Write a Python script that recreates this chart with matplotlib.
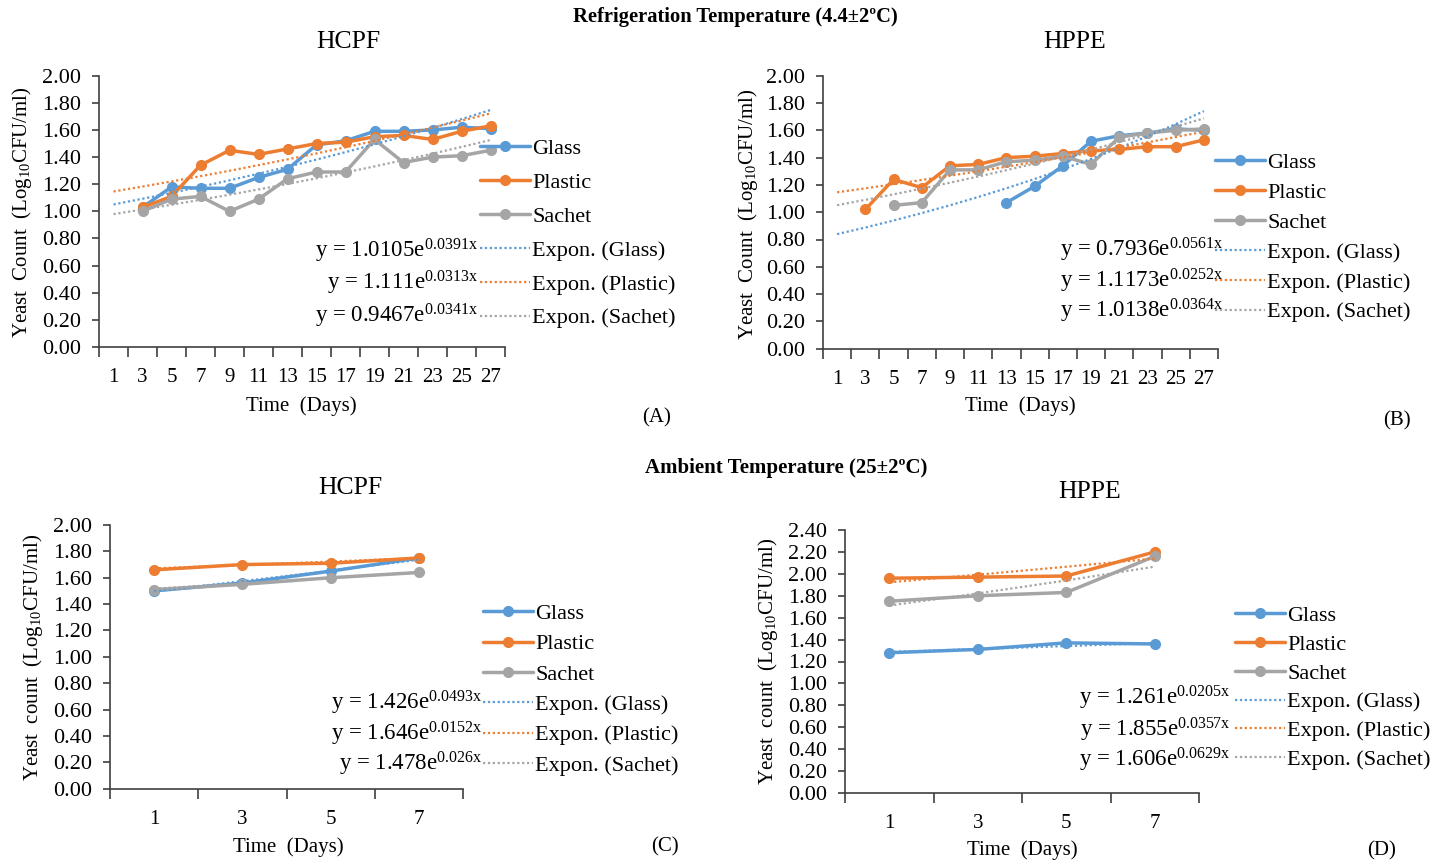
import numpy as np
import matplotlib
matplotlib.use("Agg")
import matplotlib.pyplot as plt

W, H = 1439, 864
plt.rcParams['font.family'] = ['Liberation Serif', 'DejaVu Serif']
plt.rcParams['mathtext.fontset'] = 'custom'
plt.rcParams['mathtext.rm'] = 'Liberation Serif'
plt.rcParams['mathtext.it'] = 'Liberation Serif:italic'
plt.rcParams['mathtext.bf'] = 'Liberation Serif:bold'

nan = np.nan
series_names = ["Glass", "Plastic", "Sachet"]
colors = ["#5B9BD5", "#ED7D31", "#A5A5A5"]

# ---- Refrigeration temperature (days 1..27) ----
days_ref = ["1", "3", "5", "7", "9", "11", "13", "15", "17", "19", "21", "23", "25", "27"]
hcpf_ref_glass = [nan, 1.03, 1.18, 1.17, 1.17, 1.25, 1.31, 1.49, 1.52, 1.59, 1.59, 1.60, 1.62, 1.61]
hcpf_ref_plastic = [nan, 1.03, 1.11, 1.34, 1.45, 1.42, 1.46, 1.50, 1.51, 1.55, 1.56, 1.53, 1.59, 1.63]
hcpf_ref_sachet = [nan, 1.00, 1.09, 1.11, 1.00, 1.09, 1.24, 1.29, 1.29, 1.53, 1.36, 1.40, 1.41, 1.45]
hcpf_ref_a = [1.0105, 1.111, 0.9467]
hcpf_ref_b = [0.0391, 0.0313, 0.0341]

hppe_ref_glass = [nan, nan, nan, nan, nan, nan, 1.07, 1.19, 1.34, 1.52, 1.56, 1.58, 1.61, 1.60]
hppe_ref_plastic = [nan, 1.02, 1.24, 1.18, 1.34, 1.35, 1.40, 1.41, 1.43, 1.45, 1.46, 1.48, 1.48, 1.53]
hppe_ref_sachet = [nan, nan, 1.05, 1.07, 1.31, 1.31, 1.37, 1.38, 1.41, 1.35, 1.55, 1.58, 1.60, 1.61]
hppe_ref_a = [0.7936, 1.1173, 1.0138]
hppe_ref_b = [0.0561, 0.0252, 0.0364]

# ---- Ambient temperature (days 1..7) ----
days_amb = ["1", "3", "5", "7"]
hcpf_amb_glass = [1.50, 1.56, 1.65, 1.75]
hcpf_amb_plastic = [1.66, 1.70, 1.71, 1.75]
hcpf_amb_sachet = [1.51, 1.55, 1.60, 1.64]
hcpf_amb_a = [1.426, 1.646, 1.478]
hcpf_amb_b = [0.0493, 0.0152, 0.026]

hppe_amb_glass = [1.28, 1.31, 1.37, 1.36]
hppe_amb_plastic = [1.96, 1.97, 1.98, 2.20]
hppe_amb_sachet = [1.75, 1.80, 1.83, 2.16]
hppe_amb_a = [1.261, 1.855, 1.606]
hppe_amb_b = [0.0205, 0.0357, 0.0629]

FS = 15
LFS = 16
EFS = 16.5


def fx(px):
    return px / W


def fy(py):
    return 1 - py / H


def panel(fig, rect_px, cats, series, ca, cb, ymax, title, title_xy, ylabel, ylab_xy,
          xlab_xy, legend_xy, lspace, eq_right, eq_ys, tag, tag_xy):
    l, t, r, b = rect_px
    ax = fig.add_axes([fx(l), fy(b), fx(r - l), (b - t) / H])
    n = len(cats)
    x = np.arange(n)
    lines = []
    for vals, c in zip(series, colors):
        ln, = ax.plot(x, vals, color=c, lw=2.5, marker='o', ms=7, zorder=3,
                      solid_capstyle='round', solid_joinstyle='round')
        lines.append(ln)
    trends = []
    xt = np.arange(1, n + 1)
    for a, bb, c in zip(ca, cb, colors):
        tl, = ax.plot(x, a * np.exp(bb * xt), color=c, lw=1.6, ls=(0, (1, 1.2)), zorder=4)
        trends.append(tl)
    ax.set_xlim(-0.5, n - 0.5)
    ax.set_ylim(0, ymax)
    ax.set_xticks(np.arange(-0.5, n, 1.0))
    ax.set_xticks(x, minor=True)
    ax.set_xticklabels(cats, minor=True)
    ax.tick_params(axis='x', which='major', length=7, width=1.2, direction='out', labelbottom=False,
                   color='#404040')
    ax.tick_params(axis='x', which='minor', length=0, pad=15, labelsize=FS)
    yt = np.round(np.arange(0, ymax + 0.001, 0.2), 2)
    ax.set_yticks(yt)
    ax.set_yticklabels([f"{v:.2f}" for v in yt])
    ax.tick_params(axis='y', length=5, width=1.2, direction='out', labelsize=16, pad=8, color='#404040')
    for s in ['top', 'right']:
        ax.spines[s].set_visible(False)
    for s in ['left', 'bottom']:
        ax.spines[s].set_color('#404040')
        ax.spines[s].set_linewidth(1.2)
    fig.text(fx(title_xy[0]), fy(title_xy[1]), title, ha='center', va='center', fontsize=18.5)
    fig.text(fx(ylab_xy[0]), fy(ylab_xy[1]), ylabel, ha='center', va='center', rotation=90, fontsize=FS)
    fig.text(fx(xlab_xy[0]), fy(xlab_xy[1]), "Time  (Days)", ha='center', va='center', fontsize=FS)
    fig.text(fx(tag_xy[0]), fy(tag_xy[1]), tag, ha='center', va='center', fontsize=FS)
    labels = series_names + [f"Expon. ({s})" for s in series_names]
    ax.legend(lines + trends, labels, loc='upper left',
              bbox_to_anchor=(fx(legend_xy[0]), fy(legend_xy[1])), bbox_transform=fig.transFigure,
              frameon=False, fontsize=LFS, handlelength=2.25, handletextpad=0.1,
              labelspacing=lspace, borderpad=0, borderaxespad=0)
    for a, bb, yy in zip(ca, cb, eq_ys):
        fig.text(fx(eq_right), fy(yy), f"y = {a}e$^{{\\mathrm{{{bb}x}}}}$", ha='right', va='center',
                 fontsize=EFS)
    return ax


fig = plt.figure(figsize=(W / 100, H / 100), dpi=100)

fig.text(fx(735), fy(17), "Refrigeration Temperature (4.4±2ºC)", ha='center', va='center',
         fontsize=14.8, fontweight='bold')
fig.text(fx(786), fy(468), "Ambient Temperature (25±2ºC)", ha='center', va='center',
         fontsize=15, fontweight='bold')

ylab_cap = "Yeast  Count  (Log$_{\\mathrm{10}}$CFU/ml)"
ylab_low = "Yeast  count  (Log$_{\\mathrm{10}}$CFU/ml)"

panel(fig, (99, 75.7, 505, 347), days_ref, [hcpf_ref_glass, hcpf_ref_plastic, hcpf_ref_sachet],
      hcpf_ref_a, hcpf_ref_b, 2.0, "HCPF", (348, 42), ylab_cap, (22, 212), (301, 406),
      (480, 138.5), 0.6, 478, [251, 283, 316], "(A)", (657, 418))

panel(fig, (823, 75.7, 1218, 348.7), days_ref, [hppe_ref_glass, hppe_ref_plastic, hppe_ref_sachet],
      hppe_ref_a, hppe_ref_b, 2.0, "HPPE", (1075, 42), ylab_cap, (748, 214), (1020, 406),
      (1215, 152.5), 0.42, 1223, [250, 281, 311], "(B)", (1397, 421))

panel(fig, (110, 525, 463, 788.7), days_amb, [hcpf_amb_glass, hcpf_amb_plastic, hcpf_amb_sachet],
      hcpf_amb_a, hcpf_amb_b, 2.0, "HCPF", (350, 488), ylab_low, (33, 657), (288, 847),
      (483, 603.5), 0.44, 482, [703, 734, 764], "(C)", (665, 847))

panel(fig, (845, 530, 1199, 793), days_amb, [hppe_amb_glass, hppe_amb_plastic, hppe_amb_sachet],
      hppe_amb_a, hppe_amb_b, 2.4, "HPPE", (1090, 492), ylab_low, (768, 661), (1022, 850),
      (1235, 605.5), 0.37, 1230, [698, 730, 760], "(D)", (1382, 851))

fig.savefig("out.png", dpi=100)
